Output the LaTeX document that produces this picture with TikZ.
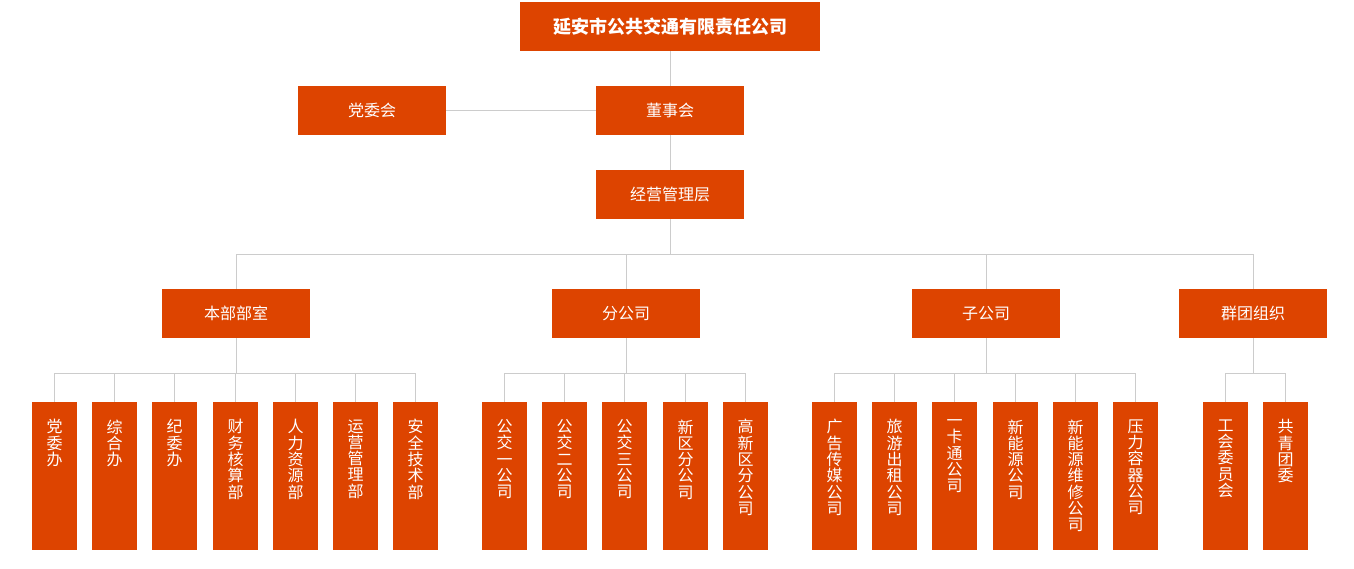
\documentclass[tikz,border=0pt]{standalone}
\usepackage{fontspec}
\newfontfamily\cjk{Noto Sans CJK SC}
\definecolor{boxc}{HTML}{DD4400}
\definecolor{linec}{HTML}{CCCCCC}
\begin{document}
\begin{tikzpicture}[x=1pt,y=-1pt,
 box/.style={fill=boxc, text=white, inner sep=0pt, font=\cjk\fontsize{16}{18}\selectfont},
 hbox/.style={box, minimum width=148pt, minimum height=49pt},
 titlebox/.style={box, minimum width=300pt, minimum height=49pt, font=\cjk\bfseries\fontsize{18}{20}\selectfont},
 vbox/.style={box, minimum width=45pt, minimum height=148pt},
 vtext/.style={text=white, anchor=north, inner sep=0pt, align=center, font=\cjk\fontsize{16}{16.3}\selectfont},
 conn/.style={draw=linec, line width=1pt}]
\useasboundingbox (0,0) rectangle (1354,568);

% top levels
\node[titlebox] (top) at (670,26.5) {延安市公共交通有限责任公司};
\node[hbox] (dw) at (372,110.5) {党委会};
\node[hbox] (ds) at (670,110.5) {董事会};
\node[hbox] (jy) at (670,194.5) {经营管理层};

% level 2
\node[hbox] (g1) at (236,313.5) {本部部室};
\node[hbox] (g2) at (626,313.5) {分公司};
\node[hbox] (g3) at (986,313.5) {子公司};
\node[hbox] (g4) at (1253,313.5) {群团组织};

% level 3 boxes
\foreach \n/\x/\t in {
 a1/54.5/{党\\委\\办}, a2/114.5/{综\\合\\办}, a3/174.5/{纪\\委\\办},
 a4/235.5/{财\\务\\核\\算\\部}, a5/295.5/{人\\力\\资\\源\\部},
 a6/355.5/{运\\营\\管\\理\\部}, a7/415.5/{安\\全\\技\\术\\部},
 b1/504.5/{公\\交\\一\\公\\司}, b2/564.5/{公\\交\\二\\公\\司},
 b3/624.5/{公\\交\\三\\公\\司}, b4/685.5/{新\\区\\分\\公\\司},
 b5/745.5/{高\\新\\区\\分\\公\\司},
 c1/834.5/{广\\告\\传\\媒\\公\\司}, c2/894.5/{旅\\游\\出\\租\\公\\司},
 c3/954.5/{一\\卡\\通\\公\\司}, c4/1015.5/{新\\能\\源\\公\\司},
 c5/1075.5/{新\\能\\源\\维\\修\\公\\司}, c6/1135.5/{压\\力\\容\\器\\公\\司},
 d1/1225.5/{工\\会\\委\\员\\会}, d2/1285.5/{共\\青\\团\\委}} {
  \node[vbox] (\n) at (\x,476) {};
  \node[vtext] (\n t) at ([yshift=-17.5pt]\n.north) {\t};
}

% connectors
\draw[conn] (top.south) -- (ds.north);
\draw[conn] (ds.south) -- (jy.north);
\draw[conn] (dw.east) -- (ds.west);
\foreach \c in {g1,g2,g3,g4} \draw[conn] (jy.south) -- ++(0,35) -| (\c.north);
\foreach \c in {a1,a2,a3,a4,a5,a6,a7} \draw[conn] (g1.south) -- ++(0,35) -| (\c.north);
\foreach \c in {b1,b2,b3,b4,b5} \draw[conn] (g2.south) -- ++(0,35) -| (\c.north);
\foreach \c in {c1,c2,c3,c4,c5,c6} \draw[conn] (g3.south) -- ++(0,35) -| (\c.north);
\foreach \c in {d1,d2} \draw[conn] (g4.south) -- ++(0,35) -| (\c.north);
\end{tikzpicture}
\end{document}
